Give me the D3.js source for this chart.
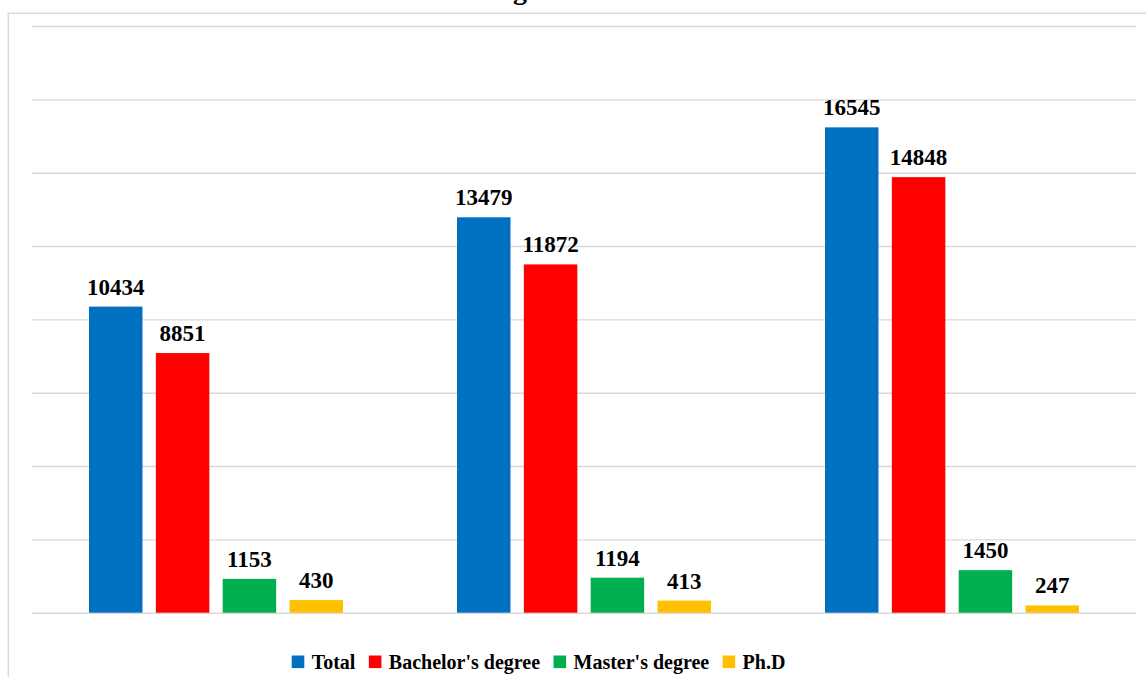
<!DOCTYPE html>
<html>
<head>
<meta charset="utf-8">
<script src="https://cdn.jsdelivr.net/npm/d3@7"></script>
<style>
  html, body { margin: 0; padding: 0; background: #ffffff; overflow: hidden; }
  svg { display: block; }
</style>
</head>
<body>
<svg id="chart" width="1146" height="677"></svg>
<script>
// ---- data ----
const categories = ["Group 1", "Group 2", "Group 3"];
const seriesNames = ["Total", "Bachelor's degree", "Master's degree", "Ph.D"];
const totalValues = [10434, 13479, 16545];
const bachelorValues = [8851, 11872, 14848];
const masterValues = [1153, 1194, 1450];
const phdValues = [430, 413, 247];
const yTicks = [0, 2500, 5000, 7500, 10000, 12500, 15000, 17500, 20000];
const titleText = "Number of Students in Each Degree";

const seriesColors = ["#0070c0", "#ff0000", "#00b050", "#ffc000"];
const seriesValues = [totalValues, bachelorValues, masterValues, phdValues];

const svg = d3.select("#chart");
const W = 1146, H = 677;
const plot = { left: 32, right: 1136, top: 26, bottom: 612.7 };

// frame (extends beyond the visible window, as in the reference)
svg.append("rect")
  .attr("x", 8.3).attr("y", 13.3)
  .attr("width", 1160).attr("height", 700)
  .attr("fill", "#ffffff")
  .attr("stroke", "#d9d9d9").attr("stroke-width", 1.5);

// scales
const x0 = d3.scaleBand().domain(categories).range([plot.left, plot.right]).padding(0);
const x1 = d3.scaleBand().domain(seriesNames).range([57, 311]).paddingInner(0.2).paddingOuter(0);
const y = d3.scaleLinear().domain([0, 20000]).range([plot.bottom, plot.top]);

// gridlines
const grid = svg.append("g")
  .attr("transform", `translate(${plot.left},0)`)
  .call(d3.axisLeft(y).tickValues(yTicks).tickSize(-(plot.right - plot.left)).tickFormat(""));
grid.select(".domain").remove();
grid.selectAll(".tick line").attr("stroke", "#d9d9d9").attr("stroke-width", 1.4);

// bars
const rows = [];
categories.forEach((c, ci) => {
  seriesNames.forEach((s, si) => {
    rows.push({ cat: c, series: s, value: seriesValues[si][ci], color: seriesColors[si] });
  });
});

const groups = svg.append("g");
groups.selectAll("rect.bar").data(rows).enter().append("rect")
  .attr("class", "bar")
  .attr("x", d => x0(d.cat) + x1(d.series))
  .attr("y", d => y(d.value))
  .attr("width", x1.bandwidth())
  .attr("height", d => y(0) - y(d.value))
  .attr("fill", d => d.color);

// value labels
groups.selectAll("text.lbl").data(rows).enter().append("text")
  .attr("class", "lbl")
  .attr("x", d => x0(d.cat) + x1(d.series) + x1.bandwidth() / 2)
  .attr("y", d => y(d.value) - 12)
  .attr("text-anchor", "middle")
  .attr("font-family", "'Liberation Serif', 'Times New Roman', serif")
  .attr("font-weight", "bold")
  .attr("font-size", 23)
  .attr("fill", "#000000")
  .text(d => d.value);

// title (mostly cut off above the window, only a descender shows)
const title = svg.append("text")
  .attr("x", 0).attr("y", -1)
  .attr("font-family", "'Liberation Serif', 'Times New Roman', serif")
  .attr("font-weight", "bold")
  .attr("font-size", 28)
  .attr("fill", "#000000")
  .text(titleText);
const gIdx = titleText.indexOf("g");
const gPos = title.node().getStartPositionOfChar(gIdx).x;
title.attr("x", 513 - gPos);

// legend
const legend = svg.append("g");
let lx = 291.7;
seriesNames.forEach((s, i) => {
  legend.append("rect")
    .attr("x", lx).attr("y", 655.5)
    .attr("width", 12.6).attr("height", 12.6)
    .attr("fill", seriesColors[i]);
  const t = legend.append("text")
    .attr("x", lx + 20).attr("y", 669)
    .attr("font-family", "'Liberation Serif', 'Times New Roman', serif")
    .attr("font-weight", "bold")
    .attr("font-size", 20)
    .attr("fill", "#000000")
    .text(s);
  lx = lx + 20 + t.node().getComputedTextLength() + 13.4;
});
</script>
</body>
</html>
